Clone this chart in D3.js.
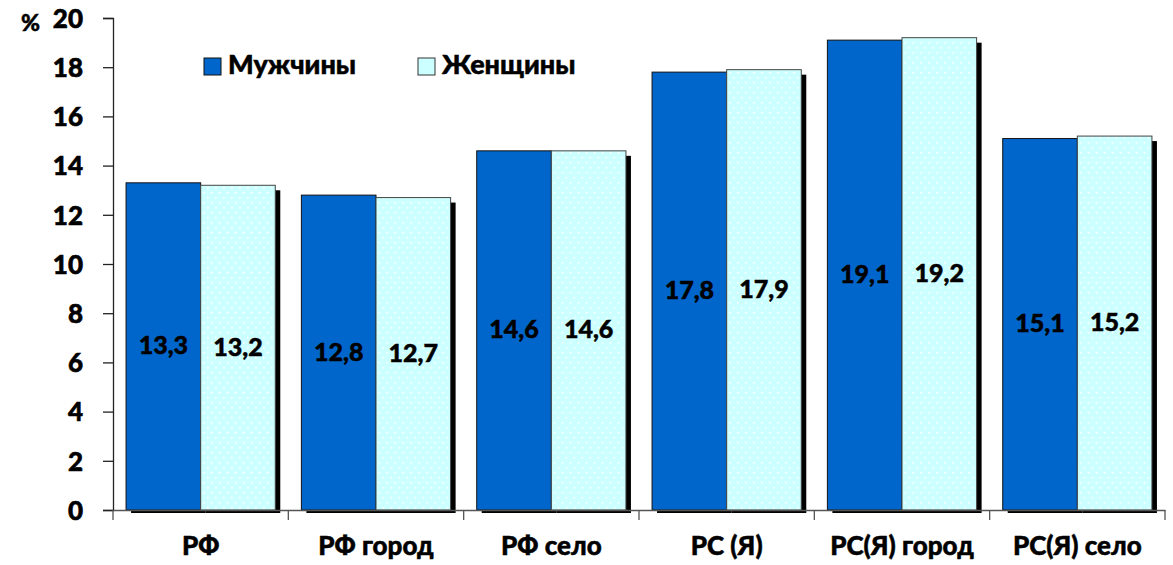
<!DOCTYPE html>
<html>
<head>
<meta charset="utf-8">
<script src="https://cdn.jsdelivr.net/npm/d3@7/dist/d3.min.js"></script>
<style>
  body { margin: 0; background: #fff; }
  text { font-family: Lato, "Open Sans", sans-serif; font-weight: 900; fill: #000; stroke: #000; stroke-width: 0.5px; }
</style>
</head>
<body>
<div id="chart"></div>
<script>
// data
const categories = ['РФ', 'РФ город', 'РФ село', 'РС (Я)', 'РС(Я) город', 'РС(Я) село'];
const seriesNames = ['Мужчины', 'Женщины'];
const menValues = [13.3, 12.8, 14.6, 17.8, 19.1, 15.1];
const womenValues = [13.2, 12.7, 14.6, 17.9, 19.2, 15.2];
const yTicks = [0, 2, 4, 6, 8, 10, 12, 14, 16, 18, 20];

const width = 1173;
const height = 565;
const axisX = 113;
const axisRight = 1165;
const baseY = 510;
const topY = 18;

const svg = d3.select('#chart').append('svg')
  .attr('width', width)
  .attr('height', height);

// dotted fill for women bars
const defs = svg.append('defs');
const pat = defs.append('pattern')
  .attr('id', 'dots')
  .attr('patternUnits', 'userSpaceOnUse')
  .attr('width', 8)
  .attr('height', 10);
pat.append('rect').attr('width', 8).attr('height', 10).attr('fill', '#ccffff');
pat.append('rect').attr('x', 2).attr('y', 2).attr('width', 1.6).attr('height', 1.6).attr('fill', '#fff');
pat.append('rect').attr('x', 6).attr('y', 7).attr('width', 1.6).attr('height', 1.6).attr('fill', '#fff');

const x = d3.scaleBand()
  .domain(categories)
  .range([axisX, axisRight]);

const inner = d3.scaleBand()
  .domain(seriesNames)
  .range([0, x.bandwidth()])
  .paddingInner(0)
  .paddingOuter(0.175);

const y = d3.scaleLinear()
  .domain([0, 20])
  .range([baseY, topY]);

const rows = categories.map((c, i) => ({ cat: c, vals: [menValues[i], womenValues[i]] }));

const groups = svg.selectAll('g.grp')
  .data(rows)
  .enter()
  .append('g')
  .attr('class', 'grp')
  .attr('transform', d => 'translate(' + x(d.cat) + ',0)');

// shadows
groups.selectAll('rect.shadow')
  .data(d => d.vals.map((v, j) => ({ name: seriesNames[j], v: v })))
  .enter()
  .append('rect')
  .attr('x', d => inner(d.name) + 5)
  .attr('y', d => y(d.v) + 5)
  .attr('width', inner.bandwidth())
  .attr('height', d => baseY - y(d.v) - 2)
  .attr('fill', '#000');

// bars
groups.selectAll('rect.bar')
  .data(d => d.vals.map((v, j) => ({ name: seriesNames[j], v: v })))
  .enter()
  .append('rect')
  .attr('x', d => inner(d.name))
  .attr('y', d => y(d.v))
  .attr('width', inner.bandwidth())
  .attr('height', d => baseY - y(d.v))
  .attr('fill', d => d.name === seriesNames[0] ? '#0066cc' : 'url(#dots)')
  .attr('stroke', d => d.name === seriesNames[0] ? '#111' : '#444')
  .attr('stroke-width', 1);

// value labels
groups.selectAll('text.val')
  .data(d => d.vals.map((v, j) => ({ name: seriesNames[j], v: v })))
  .enter()
  .append('text')
  .attr('x', d => inner(d.name) + inner.bandwidth() / 2)
  .attr('y', d => (y(d.v) + baseY) / 2 + 8)
  .attr('text-anchor', 'middle')
  .style('font-size', '25px')
  .text(d => String(d.v).replace('.', ','));

// y axis
const yAxis = d3.axisLeft(y)
  .tickValues(yTicks)
  .tickSize(10)
  .tickPadding(20)
  .tickFormat(d3.format('d'));

const yg = svg.append('g')
  .attr('transform', 'translate(' + axisX + ',0)')
  .call(yAxis);
yg.select('.domain').attr('stroke', '#222').attr('stroke-width', 1.3);
yg.selectAll('.tick line').attr('stroke', '#222').attr('stroke-width', 1.3);
yg.selectAll('.tick text')
  .style('font-size', '26px')
  .style('font-family', 'Lato, sans-serif')
  .style('font-weight', '900')
  .style('stroke', '#000')
  .style('stroke-width', '0.6px')
  .attr('dy', '0.36em')
  .attr('fill', '#000');

// x axis
const xAxis = d3.axisBottom(x)
  .tickSize(0)
  .tickPadding(0);

const xg = svg.append('g')
  .attr('transform', 'translate(0,' + baseY + ')')
  .call(xAxis);
xg.select('.domain').attr('stroke', '#555').attr('stroke-width', 1.3);
xg.selectAll('.tick text')
  .attr('y', 45)
  .attr('dy', 0)
  .style('font-size', '26px')
  .style('font-family', 'Lato, sans-serif')
  .style('font-weight', '900')
  .style('stroke', '#000')
  .style('stroke-width', '0.5px')
  .attr('fill', '#000');

// category boundary ticks
const bounds = categories.map(c => x(c)).concat([axisRight]);
xg.selectAll('line.bound')
  .data(bounds)
  .enter()
  .append('line')
  .attr('x1', d => d)
  .attr('x2', d => d)
  .attr('y1', 0)
  .attr('y2', 10)
  .attr('stroke', '#555')
  .attr('stroke-width', 1.3);

// unit label
svg.append('text')
  .attr('x', 21)
  .attr('y', 31)
  .style('font-size', '23px')
  .text('%');

// legend
const legendItems = [
  { name: seriesNames[0], x: 204, fill: '#0066cc', stroke: '#111' },
  { name: seriesNames[1], x: 418, fill: '#ccffff', stroke: '#333' }
];
const lg = svg.selectAll('g.legend')
  .data(legendItems)
  .enter()
  .append('g')
  .attr('transform', d => 'translate(' + d.x + ',58)');
lg.append('rect')
  .attr('width', 17)
  .attr('height', 17)
  .attr('fill', d => d.fill)
  .attr('stroke', d => d.stroke)
  .style('stroke-width', 1);
lg.append('text')
  .attr('x', 24)
  .attr('y', 16)
  .style('font-size', '27px')
  .text(d => d.name);
</script>
</body>
</html>
